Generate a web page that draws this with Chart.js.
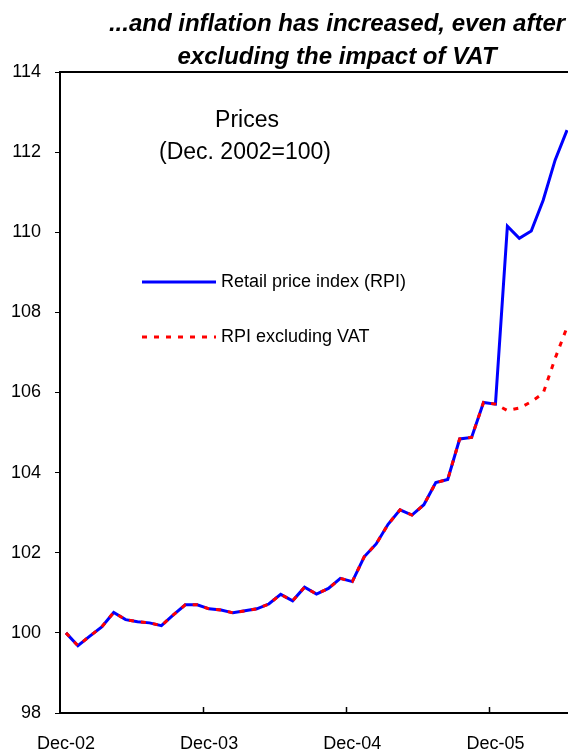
<!DOCTYPE html>
<html>
<head>
<meta charset="utf-8">
<script src="https://cdn.jsdelivr.net/npm/chart.js@4.4.1/dist/chart.umd.min.js"></script>
<style>
  html, body { margin: 0; padding: 0; background: #fff; overflow: hidden; }
  #wrap { width: 580px; height: 750px; }
</style>
</head>
<body>
<div id="wrap"><canvas id="myChart" width="580" height="750"></canvas></div>
<script>
// monthly, Dec-02 .. Jun-06
const months = ['Dec-02','Jan-03','Feb-03','Mar-03','Apr-03','May-03','Jun-03','Jul-03','Aug-03','Sep-03','Oct-03','Nov-03',
                'Dec-03','Jan-04','Feb-04','Mar-04','Apr-04','May-04','Jun-04','Jul-04','Aug-04','Sep-04','Oct-04','Nov-04',
                'Dec-04','Jan-05','Feb-05','Mar-05','Apr-05','May-05','Jun-05','Jul-05','Aug-05','Sep-05','Oct-05','Nov-05',
                'Dec-05','Jan-06','Feb-06','Mar-06','Apr-06','May-06','Jun-06'];

const rpi = [100.00, 99.68, 99.92, 100.15, 100.51, 100.33, 100.28, 100.25, 100.18, 100.45, 100.70, 100.70,
             100.60, 100.57, 100.50, 100.55, 100.60, 100.72, 100.96, 100.80, 101.14, 100.97, 101.11, 101.36,
             101.28, 101.90, 102.22, 102.71, 103.07, 102.94, 103.20, 103.75, 103.83, 104.84, 104.88, 105.75,
             105.71, 110.15, 109.85, 110.03, 110.80, 111.80, 112.55];

const rpiExVat = [100.00, 99.68, 99.92, 100.15, 100.51, 100.33, 100.28, 100.25, 100.18, 100.45, 100.70, 100.70,
                  100.60, 100.57, 100.50, 100.55, 100.60, 100.72, 100.96, 100.80, 101.14, 100.97, 101.11, 101.36,
                  101.28, 101.90, 102.22, 102.71, 103.07, 102.94, 103.20, 103.75, 103.83, 104.84, 104.88, 105.75,
                  105.71, 105.55, 105.61, 105.77, 105.98, 106.85, 107.63];

const yTicks = [98, 100, 102, 104, 106, 108, 110, 112, 114];

const FONT = 'Arial, "Liberation Sans", sans-serif';

// frame, inside x tick marks, title, annotation and legend
const decor = {
    id: 'decor',
    afterDraw(chart) {
        const ctx = chart.ctx;
        const a = chart.chartArea;
        const x = chart.scales.x;
        const half = (x.getPixelForValue(1) - x.getPixelForValue(0)) / 2;
        ctx.save();
        ctx.strokeStyle = '#000';
        ctx.lineWidth = 2;
        ctx.beginPath();
        ctx.moveTo(a.left, a.top);
        ctx.lineTo(a.right, a.top);
        ctx.stroke();
        ctx.lineWidth = 1.5;
        for (let i = 12; i < months.length; i += 12) {
            const px = Math.round(x.getPixelForValue(i) - half) + 0.5;
            ctx.beginPath();
            ctx.moveTo(px, a.bottom);
            ctx.lineTo(px, a.bottom - 6);
            ctx.stroke();
        }

        ctx.fillStyle = '#000';
        ctx.textAlign = 'center';
        ctx.textBaseline = 'middle';
        ctx.font = 'italic bold 24px ' + FONT;
        ctx.fillText('...and inflation has increased, even after', 337, 24);
        ctx.fillText('excluding the impact of VAT', 337, 57);

        ctx.font = '23px ' + FONT;
        ctx.fillText('Prices', a.left + 187, 121);
        ctx.fillText('(Dec. 2002=100)', a.left + 185, 153);

        // legend
        const ds = chart.data.datasets;
        const rows = [{d: ds[1], y: 282}, {d: ds[0], y: 337}];
        ctx.textAlign = 'left';
        ctx.font = '18px ' + FONT;
        rows.forEach(r => {
            ctx.strokeStyle = r.d.borderColor;
            ctx.lineWidth = r.d.borderWidth;
            ctx.setLineDash(r.d.borderDash || []);
            ctx.beginPath();
            ctx.moveTo(a.left + 82, r.y);
            ctx.lineTo(a.left + 156, r.y);
            ctx.stroke();
            ctx.setLineDash([]);
            ctx.fillText(r.d.label, a.left + 161, r.y);
        });
        ctx.restore();
    }
};

const ctx = document.getElementById('myChart').getContext('2d');
const myChart = new Chart(ctx, {
    type: 'line',
    data: {
        labels: months,
        datasets: [{
            label: 'RPI excluding VAT',
            data: rpiExVat,
            borderColor: '#FF0000',
            borderWidth: 3,
            borderDash: [5, 7],
            pointRadius: 0,
            tension: 0,
            order: 0
        }, {
            label: 'Retail price index (RPI)',
            data: rpi,
            borderColor: '#0000FF',
            borderWidth: 3,
            pointRadius: 0,
            tension: 0,
            order: 1
        }]
    },
    options: {
        responsive: false,
        animation: false,
        layout: { padding: { top: 72, right: 7, bottom: 0, left: 0 } },
        plugins: {
            legend: { display: false },
            tooltip: { enabled: false }
        },
        scales: {
            x: {
                type: 'category',
                offset: true,
                // invisible tick marks just push the labels down; real ones are drawn inside by the plugin
                grid: { display: true, drawOnChartArea: false, drawTicks: true, tickLength: 20, color: 'rgba(0,0,0,0)', offset: true },
                border: { display: true, color: '#000', width: 2 },
                ticks: {
                    autoSkip: false,
                    maxRotation: 0,
                    padding: 0,
                    color: '#000',
                    font: { family: FONT, size: 18 },
                    callback: function(val, i) { return i % 12 === 0 ? months[i] : ''; }
                },
                afterFit: function(scale) { scale.height = 37; }
            },
            y: {
                min: 98,
                max: 114,
                afterBuildTicks: function(scale) { scale.ticks = yTicks.map(v => ({ value: v })); },
                grid: { drawOnChartArea: false, drawTicks: true, tickLength: 5, color: '#000', lineWidth: 1 },
                border: { display: true, color: '#000', width: 2 },
                ticks: {
                    padding: 14,
                    color: '#000',
                    font: { family: FONT, size: 18 }
                },
                afterFit: function(scale) { scale.width = 60; }
            }
        }
    },
    plugins: [decor]
});
</script>
</body>
</html>
